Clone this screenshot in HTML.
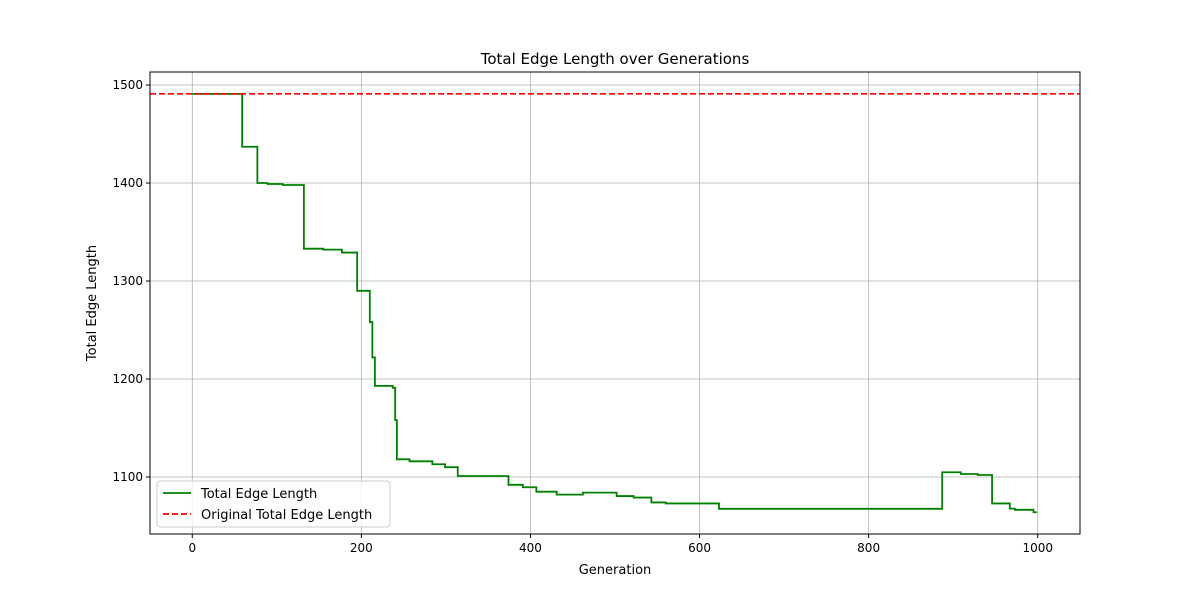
<!DOCTYPE html>
<html><head><meta charset="utf-8"><style>
body{margin:0;background:#fff;font-family:"Liberation Sans","DejaVu Sans",sans-serif}
svg text{font-family:"DejaVu Sans","Liberation Sans",sans-serif;fill:#000}
</style></head><body>
<svg id="chart" width="1200" height="600" xmlns="http://www.w3.org/2000/svg">
<rect width="1200" height="600" fill="#fff"/>
<g id="grid"></g>
<g id="series"></g>
<rect x="150" y="72" width="930" height="462" fill="none" stroke="#000" stroke-width="1"/>
<g id="ticks"></g>
<text x="615" y="64" text-anchor="middle" font-size="15">Total Edge Length over Generations</text>
<text x="615" y="574" text-anchor="middle" font-size="13">Generation</text>
<text transform="translate(96,303) rotate(-90)" text-anchor="middle" font-size="13">Total Edge Length</text>
<g>
<rect x="157" y="481" width="233" height="46" rx="3" fill="#fff" fill-opacity="0.8" stroke="#ccc"/>
<line x1="163" y1="493" x2="191" y2="493" stroke="#008000" stroke-width="1.8"/>
<text x="201" y="498" font-size="13">Total Edge Length</text>
<line x1="163" y1="514" x2="191" y2="514" stroke="#ff0000" stroke-width="1.8" stroke-dasharray="6,3"/>
<text x="201" y="519" font-size="13">Original Total Edge Length</text>
</g>
</svg>
<script>
const gens=[0,59,77,89,107,132,155,177,195,210,213,216,237,240,242,257,284,299,314,374,391,407,431,462,502,522,543,560,623,887,909,929,946,967,973,995,999];
const lengths=[1491,1437,1400,1399,1398,1333,1332,1329,1290,1258,1222,1193,1191,1158,1118,1116,1113,1110,1101,1092,1089.5,1085,1082,1084,1080.5,1079,1074,1073,1067.5,1104.8,1103,1102,1073,1067.7,1066.5,1064,1064];
const originalLength=1491;
const xTicks=[0,200,400,600,800,1000];
const yTicks=[1100,1200,1300,1400,1500];
const X0=150,X1=1080,Y0=534,Y1=72,xmin=-50,xmax=1050,ymin=1041.8,ymax=1513.3;
const sx=v=>X0+(v-xmin)/(xmax-xmin)*(X1-X0);
const sy=v=>Y0-(v-ymin)/(ymax-ymin)*(Y0-Y1);
const NS='http://www.w3.org/2000/svg';
function mk(t,a,p){const e=document.createElementNS(NS,t);for(const k in a)e.setAttribute(k,a[k]);p.appendChild(e);return e;}
const grid=document.getElementById('grid'),ticks=document.getElementById('ticks'),series=document.getElementById('series');
xTicks.forEach(t=>{const x=sx(t);
const g=mk('line',{x1:x,x2:x,y1:Y1,y2:Y0,stroke:'#b0b0b0','stroke-width':0.8},grid);


mk('line',{x1:x,x2:x,y1:Y0,y2:Y0+4,stroke:'#000'},ticks);
const tx=mk('text',{x:x,y:Y0+18,'text-anchor':'middle','font-size':12},ticks);tx.textContent=t;

});
yTicks.forEach(t=>{const y=sy(t);
const g=mk('line',{x1:X0,x2:X1,y1:y,y2:y,stroke:'#b0b0b0','stroke-width':0.8},grid);


mk('line',{x1:X0-4,x2:X0,y1:y,y2:y,stroke:'#000'},ticks);
const tx=mk('text',{x:X0-7,y:y+4,'text-anchor':'end','font-size':12},ticks);tx.textContent=t;

});
let d='';
for(let i=0;i<gens.length;i++){
 if(i===0)d+='M'+sx(gens[0])+','+sy(lengths[0]);
 else d+=' L'+sx(gens[i])+','+sy(lengths[i-1])+' L'+sx(gens[i])+','+sy(lengths[i]);
}
const p=mk('path',{d:d,fill:'none',stroke:'#008000','stroke-width':1.8},series);


const o=mk('line',{x1:X0,x2:X1,y1:sy(originalLength),y2:sy(originalLength),stroke:'#ff0000','stroke-width':1.6,'stroke-dasharray':'6,3'},series);


</script>
</body></html>
